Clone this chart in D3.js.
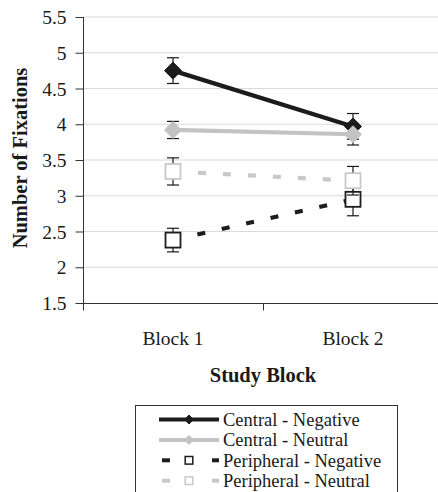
<!DOCTYPE html>
<html><head><meta charset="utf-8">
<script src="https://cdn.jsdelivr.net/npm/d3@7"></script>
<style>html,body{margin:0;padding:0;background:#fff;}svg{display:block;}
svg text{font-family:'Liberation Serif','Times New Roman',serif;}</style>
</head><body>
<svg id="c" width="438" height="492"></svg>
<script>
const categories = ["Block 1", "Block 2"];
const seriesNames = ["Central - Negative", "Central - Neutral", "Peripheral - Negative", "Peripheral - Neutral"];
const centralNegative = [4.75, 3.97];
const centralNegativeErr = [0.18, 0.18];
const centralNeutral = [3.92, 3.86];
const centralNeutralErr = [0.12, 0.15];
const peripheralNegative = [2.38, 2.95];
const peripheralNegativeErr = [0.165, 0.23];
const peripheralNeutral = [3.34, 3.21];
const peripheralNeutralErr = [0.19, 0.2];
const yTicks = [1.5, 2, 2.5, 3, 3.5, 4, 4.5, 5, 5.5];

const FONT = "'Liberation Serif','Times New Roman',serif";
const svg = d3.select("#c");
const x = d3.scaleBand().domain(categories).range([83, 443]);
const y = d3.scaleLinear().domain([1.5, 5.5]).range([303, 17]);

const series = [
  {name: seriesNames[0], v: centralNegative, e: centralNegativeErr, color: "#1c1c1c", dash: null, marker: "diamond", fill: "#1c1c1c"},
  {name: seriesNames[1], v: centralNeutral, e: centralNeutralErr, color: "#c3c3c3", dash: null, marker: "diamond", fill: "#c3c3c3"},
  {name: seriesNames[2], v: peripheralNegative, e: peripheralNegativeErr, color: "#1c1c1c", dash: "8,17", marker: "square", fill: "#fff"},
  {name: seriesNames[3], v: peripheralNeutral, e: peripheralNeutralErr, color: "#c8c8c8", dash: "8,17", marker: "square", fill: "#fff"}
];

// gridlines
svg.append("g").selectAll("line").data(yTicks.slice(1)).join("line")
  .attr("x1", 83).attr("x2", 443).attr("y1", d => y(d)).attr("y2", d => y(d))
  .attr("stroke", "#d9d9d9").attr("stroke-width", 1);

// y axis
const yAxis = svg.append("g").attr("transform", "translate(83.5,0)")
  .call(d3.axisLeft(y).tickValues(yTicks).tickSize(8).tickPadding(9).tickFormat(d3.format("")));
yAxis.attr("font-family", null).attr("font-size", null);
yAxis.select(".domain").attr("stroke", "#333").attr("d", "M0,17V310");
yAxis.selectAll(".tick line").attr("stroke", "#333");
yAxis.selectAll("text").style("font-family", FONT).style("font-size", "19.5px").attr("fill", "#1a1a1a").attr("dy", "0.34em");

// x axis
const xg = svg.append("g").attr("transform", "translate(0,303.5)");
xg.append("line").attr("x1", 83).attr("x2", 443).attr("stroke", "#333");
xg.selectAll(".tk").data([83, x("Block 2"), 443]).join("line").attr("class", "tk")
  .attr("x1", d => d + 0.5).attr("x2", d => d + 0.5).attr("y1", 0).attr("y2", 7).attr("stroke", "#333");
svg.append("g").selectAll("text").data(categories).join("text")
  .attr("x", d => x(d) + x.bandwidth() / 2).attr("y", 345)
  .attr("text-anchor", "middle").style("font-family", FONT).style("font-size", "19.5px").attr("fill", "#1a1a1a")
  .text(d => d);

// titles
svg.append("text").attr("x", 263).attr("y", 382).attr("text-anchor", "middle")
  .style("font-family", FONT).style("font-size", "20.5px").attr("font-weight", "bold").attr("fill", "#1a1a1a")
  .text("Study Block");
svg.append("text").attr("transform", "translate(27,158) rotate(-90)").attr("text-anchor", "middle")
  .style("font-family", FONT).style("font-size", "20.5px").attr("font-weight", "bold").attr("fill", "#1a1a1a")
  .text("Number of Fixations");

const cx = d => x(d) + x.bandwidth() / 2;
const line = d3.line().x(d => cx(d.c)).y(d => y(d.v));

function drawMarker(g, type, px, py, s, color, fill, sw) {
  if (type === "diamond") {
    g.append("path").attr("d", `M${px},${py - s}L${px + s},${py}L${px},${py + s}L${px - s},${py}Z`)
      .attr("fill", fill).attr("stroke", color).attr("stroke-width", 1);
  } else {
    g.append("rect").attr("x", px - s).attr("y", py - s).attr("width", 2 * s).attr("height", 2 * s)
      .attr("fill", fill).attr("stroke", color).attr("stroke-width", sw);
  }
}

series.forEach(s => {
  const g = svg.append("g");
  const pts = categories.map((c, i) => ({c, v: s.v[i], e: s.e[i]}));
  g.append("path").datum(pts).attr("d", line).attr("fill", "none")
    .attr("stroke", s.color).attr("stroke-width", 4.2)
    .attr("stroke-dasharray", s.dash);
  pts.forEach(p => {
    const px = cx(p.c);
    g.append("line").attr("x1", px).attr("x2", px).attr("y1", y(p.v + p.e)).attr("y2", y(p.v - p.e))
      .attr("stroke", "#1a1a1a").attr("stroke-width", 1.2);
    [p.v + p.e, p.v - p.e].forEach(ev => {
      g.append("line").attr("x1", px - 6).attr("x2", px + 6).attr("y1", y(ev)).attr("y2", y(ev))
        .attr("stroke", "#1a1a1a").attr("stroke-width", 1.2);
    });
  });
  pts.forEach(p => {
    drawMarker(g, s.marker, cx(p.c), y(p.v), s.marker === "diamond" ? 8.5 : 7.5, s.color, s.fill, 1.8);
  });
});

// legend
const lg = svg.append("g");
lg.append("rect").attr("x", 135.5).attr("y", 405.5).attr("width", 262).attr("height", 100)
  .attr("fill", "#fff").attr("stroke", "#333").attr("stroke-width", 1);
series.forEach((s, i) => {
  const ly = 419.5 + i * 20.4;
  if (s.dash) {
    lg.append("line").attr("x1", 162).attr("x2", 170).attr("y1", ly).attr("y2", ly).attr("stroke", s.color).attr("stroke-width", 4);
    lg.append("line").attr("x1", 212).attr("x2", 219).attr("y1", ly).attr("y2", ly).attr("stroke", s.color).attr("stroke-width", 4);
  } else {
    lg.append("line").attr("x1", 159).attr("x2", 219).attr("y1", ly).attr("y2", ly).attr("stroke", s.color).attr("stroke-width", 4);
  }
  drawMarker(lg, s.marker, 189, ly, s.marker === "diamond" ? 4.5 : 3.8, s.color, s.fill, 1.5);
  lg.append("text").attr("x", 223).attr("y", ly + 6.3).style("font-family", FONT).style("font-size", "18.5px")
    .attr("fill", "#1a1a1a").text(s.name);
});
</script>
</body></html>
